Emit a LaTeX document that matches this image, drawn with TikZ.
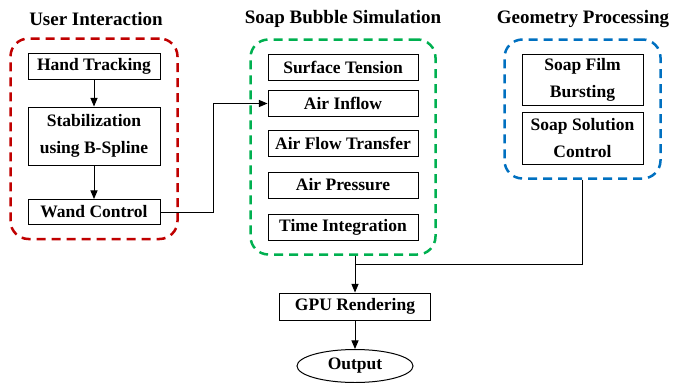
\documentclass[tikz,border=0pt]{standalone}
\usepackage{fontspec}
\setmainfont{Liberation Serif}
\usetikzlibrary{shapes,arrows,fit}
\definecolor{uired}{RGB}{192,0,0}
\definecolor{simgreen}{RGB}{0,176,80}
\definecolor{geoblue}{RGB}{0,112,192}
\tikzset{%
	block/.style    	= {draw, rectangle, line width = 1pt, align = center, inner sep = 2pt, minimum height = 26pt, font = \fontsize{17.5}{27}\selectfont\bfseries},
	uiblock/.style		= {block, minimum width = 132pt},
	simblock/.style		= {block, minimum width = 150pt},
	geoblock/.style		= {block, minimum width = 121pt, minimum height = 51pt},
	group/.style		= {draw, line width = 2.5pt, rounded corners = 18pt, dash pattern = on 9pt off 6pt, inner xsep = 17pt, inner ysep = 14pt}, % Dashed frame
	title/.style		= {font = \fontsize{19}{22}\selectfont\bfseries},
	terminal/.style 	= {draw, ellipse, line width = 1pt, minimum width = 116pt, minimum height = 33pt, inner sep = 0pt, font = \fontsize{17.5}{22}\selectfont\bfseries}, % Output
	joint/.style    	= {coordinate}
}

\begin{document}
\begin{tikzpicture}[x = 1pt, y = -1pt, line width = 1pt, >=triangle 45]
	\useasboundingbox (0, 0) rectangle (675, 383);
	\draw % Drawing the blocks
	node at (94, 66) [uiblock] (hand) {Hand Tracking}
	node at (94, 136) [uiblock, minimum height = 58pt] (stab) {Stabilization\\using B-Spline}
	node at (94, 212) [uiblock, minimum height = 25pt] (wand) {Wand Control}
	node at (343, 67) [simblock] (surf) {Surface Tension}
	node at (343, 103.5) [simblock] (inflow) {Air Inflow}
	node at (343, 143) [simblock] (transfer) {Air Flow Transfer}
	node at (343, 185) [simblock] (pressure) {Air Pressure}
	node at (343, 227) [simblock] (timeint) {Time Integration}
	node at (582.5, 79.5) [geoblock] (film) {Soap Film\\Bursting}
	node at (582.5, 138) [geoblock, minimum height = 52pt] (solution) {Soap Solution\\Control}
	node at (355, 306.5) [block, minimum width = 151pt, minimum height = 27pt] (gpu) {GPU Rendering}
	node at (355, 366) [terminal] (out) {Output}
	node at (213, 212) [joint] (bend) {}
	node at (355, 264) [joint] (merge) {}
	;
	
	% Drawing the groups
	\node[group, draw = uired, fit = (hand) (stab) (wand)] (ui) {};
	\node[group, draw = simgreen, fit = (surf) (timeint)] (sim) {};
	\node[group, draw = geoblue, fit = (film) (solution)] (geo) {};
	\node[title] at (96, 19) (uititle) {User Interaction};
	\node[title] at (343, 19) (simtitle) {Soap Bubble Simulation};
	\node[title] at (583, 19) (geotitle) {Geometry Processing};
	
	% Drawing the arrows
	\draw[->] (hand) -- (stab);
	\draw[->] (stab) -- (wand);
	\draw[->] (wand.east) -- (bend) |- (inflow.west);
	\draw (geo.south) |- (merge);
	\draw[->] (sim.south -| merge) -- (gpu);
	\draw[->] (gpu) -- (out);
\end{tikzpicture}
\end{document}
